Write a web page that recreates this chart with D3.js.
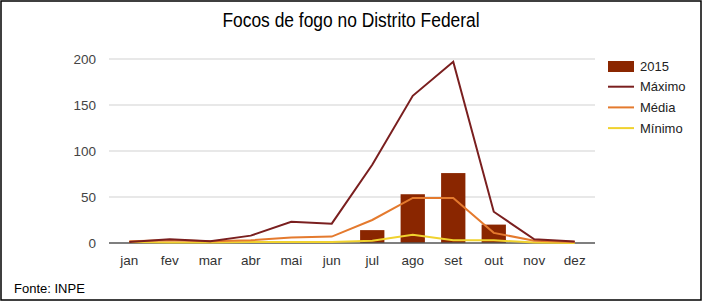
<!DOCTYPE html>
<html>
<head>
<meta charset="utf-8">
<script src="https://cdn.jsdelivr.net/npm/d3@7"></script>
<style>
  body { margin: 0; background: #fff; }
  svg { display: block; font-family: Arial, "Liberation Sans", sans-serif; }
</style>
</head>
<body>
<svg id="container"></svg>
<script>
// dados (INPE) - focos de fogo por mes
const months = ["jan", "fev", "mar", "abr", "mai", "jun", "jul", "ago", "set", "out", "nov", "dez"];
const focos2015 = [0, 0, 0, 0, 0, 0, 14, 53, 76, 20, 0, 0];
const maximo = [1, 4, 2, 8, 23, 21, 85, 160, 197, 34, 4, 1.5];
const media = [2, 3, 2, 3, 6, 7, 25, 49, 49, 11, 2.5, 1];
const minimo = [1, 0.5, 0.5, 1, 1, 1, 2.5, 9, 3, 3, 0.5, 0];
const yTicks = [0, 50, 100, 150, 200];

const W = 703, H = 302;
const margin = { top: 59, right: 108, bottom: 59, left: 109 };
const w = W - margin.left - margin.right,
  h = H - margin.top - margin.bottom;

const colors = { bar: "#8a2600", max: "#7a1f1f", med: "#e47a2e", min: "#f0d22e" };

var svg = d3.select("#container").attr("width", W).attr("height", H);

// moldura
svg.append("rect")
  .attr("x", 1).attr("y", 1)
  .attr("width", W - 3).attr("height", H - 3)
  .attr("fill", "#fff").attr("stroke", "#000").attr("stroke-width", 1.5);

// titulo (fonte mais estreita no original)
svg.append("text")
  .attr("transform", "translate(351,27) scale(0.87,1)")
  .attr("text-anchor", "middle")
  .style("font-size", "20px")
  .style("fill", "#000")
  .text("Focos de fogo no Distrito Federal");

var g = svg.append("g").attr("transform", "translate(" + margin.left + "," + margin.top + ")");

var x = d3.scaleBand().domain(months).range([0, w]).paddingInner(0.4).paddingOuter(0.2);
var xc = d => x(d) + x.bandwidth() / 2;
var y = d3.scaleLinear().domain([0, 200]).range([h, 0]);

// grade
g.selectAll(".grid")
  .data(yTicks.filter(d => d > 0))
  .enter().append("line")
  .attr("x1", 0).attr("x2", w)
  .attr("y1", d => y(d)).attr("y2", d => y(d))
  .attr("stroke", "#e0e0e0").attr("stroke-width", 1.5);

var yAxis = d3.axisLeft(y).tickValues(yTicks).tickSize(0).tickPadding(13);
var gY = g.append("g").call(yAxis);
gY.select(".domain").remove();
gY.selectAll("text").style("font-size", "13.5px").style("fill", "#444");

// barras 2015
g.selectAll(".bar")
  .data(months)
  .enter().append("rect")
  .attr("x", d => x(d))
  .attr("width", x.bandwidth())
  .attr("y", (d, i) => y(focos2015[i]))
  .attr("height", (d, i) => h - y(focos2015[i]))
  .attr("fill", colors.bar);

// linha de base
g.append("line")
  .attr("x1", 0).attr("x2", w)
  .attr("y1", y(0)).attr("y2", y(0))
  .attr("stroke", "#555").attr("stroke-width", 1.5);

var line = d3.line().x((d, i) => xc(months[i])).y(d => y(d));
[[minimo, colors.min], [media, colors.med], [maximo, colors.max]].forEach(function (s) {
  g.append("path")
    .datum(s[0])
    .attr("d", line)
    .attr("fill", "none")
    .attr("stroke", s[1])
    .attr("stroke-width", 2);
});

var xAxis = d3.axisBottom(x).tickSize(0).tickPadding(12);
var gX = g.append("g").attr("transform", "translate(0," + h + ")").call(xAxis);
gX.select(".domain").remove();
gX.selectAll("text").style("font-size", "13.5px").style("fill", "#333");

// legenda
var legend = [["2015", "bar", colors.bar], ["Máximo", "line", colors.max], ["Média", "line", colors.med], ["Mínimo", "line", colors.min]];
var lg = svg.append("g").attr("transform", "translate(608,66)");
legend.forEach(function (d, i) {
  var row = lg.append("g").attr("transform", "translate(0," + (i * 20.7) + ")");
  if (d[1] === "bar") {
    row.append("rect").attr("x", 0).attr("y", -5).attr("width", 26).attr("height", 11).attr("fill", d[2]);
  } else {
    row.append("line").attr("x1", 0).attr("x2", 26).attr("y1", 0).attr("y2", 0)
      .attr("stroke", d[2]).attr("stroke-width", 2);
  }
  row.append("text").attr("x", 32).attr("y", 0).attr("dy", "0.35em")
    .style("font-size", "13px").style("fill", "#222").text(d[0]);
});

svg.append("text")
  .attr("x", 14).attr("y", 293)
  .style("font-size", "13px").style("fill", "#000")
  .text("Fonte: INPE");
</script>
</body>
</html>
